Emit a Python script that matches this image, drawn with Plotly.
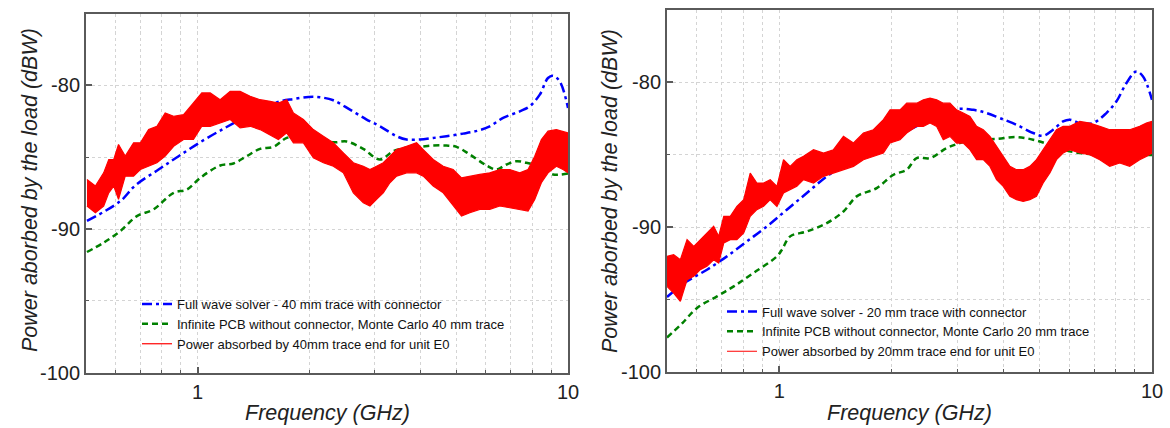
import plotly.graph_objects as go
import math

W, H = 1170, 428

# ---------------- Left panel (40 mm) ----------------
blue40_f = [0.503, 0.619, 0.679, 0.785, 0.889, 1.027, 1.187, 1.33, 1.506, 1.67, 1.815, 1.992, 2.141, 2.326,
            2.579, 2.86, 3.108, 3.446, 3.667, 3.983, 4.326, 4.699, 5.212, 5.72, 6.15, 6.68, 7.41, 7.88,
            8.39, 8.83, 9.11, 9.50, 10.0]
blue40_v = [-89.44, -88.06, -86.97, -85.86, -84.93, -83.89, -82.96, -82.27, -81.57, -81.11, -80.95, -80.81,
            -80.83, -81.04, -81.69, -82.38, -82.85, -83.54, -83.77, -83.77, -83.66, -83.54, -83.36, -83.15,
            -82.85, -82.27, -81.81, -81.46, -80.65, -79.49, -79.33, -79.72, -81.57]

green40_f = [0.503, 0.558, 0.619, 0.686, 0.761, 0.862, 0.936, 1.017, 1.151, 1.25, 1.358, 1.475, 1.602, 1.741,
             1.891, 2.097, 2.326, 2.527, 2.80, 3.108, 3.375, 3.667, 3.983, 4.326, 4.699, 5.0, 5.43, 6.03,
             6.41, 6.82, 7.26, 7.72, 8.39, 9.11, 10.0]
green40_v = [-91.60, -90.95, -90.14, -89.10, -88.63, -87.48, -87.25, -86.44, -85.58, -85.44, -84.93, -84.42,
             -84.28, -83.66, -83.50, -83.59, -83.96, -83.91, -84.42, -85.16, -84.58, -84.35, -84.28, -84.19,
             -84.19, -84.28, -84.81, -85.58, -85.86, -85.51, -85.28, -85.39, -85.63, -86.20, -86.13]

red40_f = [0.503, 0.530, 0.558, 0.576, 0.594, 0.612, 0.638, 0.672, 0.701, 0.738, 0.777, 0.818, 0.862, 0.917,
           0.975, 1.027, 1.082, 1.151, 1.225, 1.303, 1.387, 1.475, 1.570, 1.653, 1.741, 1.815, 1.931, 2.054,
           2.186, 2.326, 2.475, 2.634, 2.802, 2.920, 3.043, 3.172, 3.306, 3.446, 3.667, 3.902, 4.067, 4.326,
           4.604, 4.898, 5.159, 5.433, 5.780, 6.150, 6.544, 6.963, 7.408, 7.802, 8.132, 8.475, 8.834, 9.303,
           9.694, 10.0]
red40_hi = [-86.55, -87.01, -86.09, -85.16, -85.16, -84.12, -84.93, -84.00, -84.00, -83.08, -82.85, -81.92,
            -82.15, -82.04, -81.23, -80.53, -80.53, -81.00, -80.42, -80.42, -80.76, -81.00, -81.11, -81.23,
            -81.00, -81.92, -82.38, -83.08, -83.54, -84.00, -84.70, -85.39, -85.63, -85.86, -85.63, -85.39,
            -84.93, -84.47, -84.24, -84.00, -84.47, -85.16, -85.63, -85.86, -86.44, -86.32, -86.20, -86.09,
            -85.86, -85.86, -86.09, -85.86, -84.93, -83.77, -83.19, -83.08, -83.19, -83.31]
red40_lo = [-88.40, -88.87, -88.40, -87.48, -87.01, -87.94, -86.32, -86.32, -85.86, -85.63, -85.39, -84.93,
            -84.24, -83.77, -83.77, -82.85, -82.85, -82.62, -82.38, -82.96, -82.85, -83.08, -83.43, -83.77,
            -83.31, -84.00, -84.00, -85.05, -85.39, -85.63, -86.09, -87.48, -88.17, -88.40, -87.94, -87.48,
            -86.78, -86.32, -86.09, -86.09, -86.32, -87.01, -87.48, -88.40, -89.10, -88.87, -88.63, -88.63,
            -88.40, -88.52, -88.63, -88.75, -87.94, -86.78, -86.09, -85.63, -85.86, -86.09]

# ---------------- Right panel (20 mm) ----------------
blue20_f = [0.5, 0.566, 0.640, 0.724, 0.819, 0.927, 1.048, 1.186, 1.342, 1.487, 1.717, 2.109, 2.591, 2.99,
            3.315, 3.600, 3.908, 4.331, 4.800, 5.105, 5.430, 5.775, 6.018, 6.401, 6.950, 7.545, 8.025, 8.536,
            9.078, 9.461, 10.0]
blue20_v = [-94.80, -93.72, -92.92, -92.00, -90.97, -89.93, -88.78, -87.63, -86.48, -85.75, -84.87, -83.61,
            -82.46, -81.84, -81.89, -82.11, -82.46, -82.92, -83.49, -83.68, -83.26, -82.69, -82.57, -82.80,
            -82.80, -82.11, -81.31, -80.05, -79.24, -79.59, -81.20]

green20_f = [0.5, 0.55, 0.602, 0.681, 0.755, 0.853, 0.986, 1.017, 1.07, 1.186, 1.342, 1.487, 1.614, 1.826,
             2.025, 2.198, 2.338, 2.538, 2.813, 3.053, 3.315, 3.828, 4.331, 4.8, 5.321, 5.895, 6.535, 7.242,
             8.893, 10.0]
green20_v = [-97.6, -96.6, -95.56, -94.76, -94.07, -93.15, -92.0, -91.54, -90.62, -90.28, -89.70, -88.90,
             -87.86, -87.29, -86.37, -86.02, -85.22, -85.22, -84.53, -84.18, -83.95, -83.9, -83.77, -83.95,
             -84.3, -84.7, -84.9, -85.0, -85.0, -85.0]

red20_f = [0.500, 0.521, 0.543, 0.566, 0.590, 0.614, 0.640, 0.667, 0.688, 0.710, 0.739, 0.770, 0.803, 0.836,
           0.871, 0.908, 0.946, 0.986, 1.027, 1.070, 1.115, 1.162, 1.236, 1.315, 1.398, 1.487, 1.582, 1.682,
           1.789, 1.903, 1.983, 2.109, 2.198, 2.338, 2.436, 2.538, 2.645, 2.755, 2.871, 2.990, 3.117, 3.248,
           3.384, 3.527, 3.675, 3.828, 3.990, 4.157, 4.331, 4.512, 4.703, 4.899, 5.105, 5.321, 5.544, 5.775,
           6.018, 6.401, 6.808, 7.242, 7.702, 8.193, 8.712, 9.268, 9.656, 10.0]
red20_hi = [-92.00, -91.89, -92.23, -90.85, -91.31, -90.85, -90.39, -89.93, -90.62, -89.24, -89.24, -88.55,
            -88.09, -86.25, -86.94, -86.94, -86.71, -87.17, -85.33, -85.79, -85.33, -85.10, -84.64, -84.87,
            -84.64, -83.72, -84.18, -83.49, -83.26, -82.57, -81.89, -81.89, -81.43, -81.43, -81.20, -81.08,
            -81.20, -81.43, -81.43, -81.89, -82.11, -82.34, -83.03, -83.26, -83.72, -84.41, -85.10, -85.79,
            -86.02, -86.02, -85.79, -85.33, -84.64, -83.95, -83.26, -83.03, -83.03, -82.69, -82.80, -83.03,
            -83.26, -83.26, -83.26, -83.03, -82.80, -82.69]
red20_lo = [-94.07, -94.53, -95.10, -93.61, -93.38, -92.92, -92.69, -92.23, -92.46, -91.08, -90.85, -90.85,
            -90.39, -89.24, -88.78, -88.55, -88.09, -88.55, -87.63, -87.40, -87.17, -86.71, -86.94, -86.48,
            -86.25, -86.02, -85.79, -85.33, -85.10, -84.87, -84.18, -83.95, -83.49, -83.03, -83.03, -82.80,
            -83.03, -83.95, -83.72, -84.18, -84.18, -84.64, -85.33, -85.33, -85.79, -86.71, -87.17, -87.86,
            -88.09, -88.21, -88.09, -87.86, -86.94, -86.25, -85.33, -84.87, -84.64, -84.87, -84.99, -85.33,
            -85.79, -85.56, -85.79, -85.33, -85.10, -84.87]

# ---------------- Text ----------------
legend40 = ["Full wave solver - 40 mm trace with connector",
            "Infinite PCB without connector, Monte Carlo 40 mm trace",
            "Power absorbed by 40mm trace end for unit E0"]
legend20 = ["Full wave solver - 20 mm trace with connector",
            "Infinite PCB without connector, Monte Carlo 20 mm trace",
            "Power absorbed by 20mm trace end for unit E0"]
x_title = "Frequency (GHz)"
y_title = "Power aborbed by the load (dBW)"
x_major = [1, 10]
x_minor = [0.6, 0.7, 0.8, 0.9, 2, 3, 4, 5, 6, 7, 8, 9]
y_major = [-100, -90, -80]
y_minor = [-95, -85]

BLUE = "#0000ff"
GREEN = "#008000"
RED = "#ff0000"
FONT = "Arial, Liberation Sans, sans-serif"

fig = go.Figure()


def add_panel(xa, ya, leg, bf, bv, gf, gv, rf, rhi, rlo, names):
    fig.add_trace(go.Scatter(x=bf, y=bv, mode="lines", name=names[0], xaxis=xa, yaxis=ya, legend=leg,
                             line=dict(color=BLUE, width=2.5, dash="10px,4px,3px,4px", shape="spline")))
    fig.add_trace(go.Scatter(x=gf, y=gv, mode="lines", name=names[1], xaxis=xa, yaxis=ya, legend=leg,
                             line=dict(color=GREEN, width=2.5, dash="6px,4px", shape="spline")))
    fig.add_trace(go.Scatter(x=rf, y=rhi, mode="lines", name=names[2], xaxis=xa, yaxis=ya, legend=leg,
                             legendgroup=leg + "red", line=dict(color=RED, width=1.2)))
    fig.add_trace(go.Scatter(x=rf, y=rlo, mode="lines", name=names[2], xaxis=xa, yaxis=ya, legend=leg,
                             legendgroup=leg + "red", showlegend=False, fill="tonexty", fillcolor=RED,
                             line=dict(color=RED, width=1.2)))


add_panel("x", "y", "legend", blue40_f, blue40_v, green40_f, green40_v, red40_f, red40_hi, red40_lo, legend40)
add_panel("x2", "y2", "legend2", blue20_f, blue20_v, green20_f, green20_v, red20_f, red20_hi, red20_lo, legend20)

AX = "#5a5a5a"
GRID = "#d4d4d4"


def xaxis_cfg(dom, anchor):
    return dict(domain=dom, anchor=anchor, type="log", range=[math.log10(0.5), 1], automargin=False,
                tickmode="array", tickvals=x_major, ticktext=[str(v) for v in x_major],
                ticks="inside", ticklen=6, tickwidth=1.5, tickcolor=AX,
                showline=True, linecolor=AX, linewidth=2, mirror=True,
                showgrid=True, gridcolor=GRID, griddash="dot", gridwidth=1,
                tickfont=dict(family=FONT, size=20, color="#222"),
                minor=dict(tickmode="array", tickvals=x_minor, ticks="inside", ticklen=3, tickwidth=1.2,
                           tickcolor=AX, showgrid=True, gridcolor=GRID, griddash="dot", gridwidth=1),
                zeroline=False)


def yaxis_cfg(dom, anchor):
    return dict(domain=dom, anchor=anchor, range=[-100, -75], automargin=False,
                tickmode="array", tickvals=y_major, ticktext=[str(v) for v in y_major],
                ticks="inside", ticklen=6, tickwidth=1.5, tickcolor=AX,
                showline=True, linecolor=AX, linewidth=2, mirror=True,
                showgrid=True, gridcolor=GRID, griddash="dot", gridwidth=1,
                tickfont=dict(family=FONT, size=20, color="#222"),
                minor=dict(tickmode="array", tickvals=y_minor, ticks="inside", ticklen=3, tickwidth=1.2,
                           tickcolor=AX, showgrid=True, gridcolor=GRID, griddash="dot", gridwidth=1),
                zeroline=False)


xl = [86 / W, 568 / W]
xr = [667 / W, 1152 / W]
yl = [1 - 372.7 / H, 1 - 13.5 / H]
yr = [1 - 372.3 / H, 1 - 10 / H]

leg_common = dict(bgcolor="rgba(0,0,0,0)", borderwidth=0, font=dict(family=FONT, size=13, color="#111"),
                  xanchor="left", yanchor="top", tracegroupgap=0, itemwidth=30)

fig.update_layout(
    width=W, height=H, autosize=False, margin=dict(l=0, r=0, t=0, b=0, pad=0),
    paper_bgcolor="white", plot_bgcolor="white",
    xaxis=xaxis_cfg(xl, "y"), yaxis=yaxis_cfg(yl, "x"),
    xaxis2=xaxis_cfg(xr, "y2"), yaxis2=yaxis_cfg(yr, "x2"),
    legend=dict(x=137 / W, y=1 - 289 / H, **leg_common),
    legend2=dict(x=722 / W, y=1 - 296.5 / H, **leg_common),
    showlegend=True,
)

ann = []
for cx, cy in [(327, 413), (909, 413)]:
    ann.append(dict(text="<i>" + x_title + "</i>", x=cx / W, y=1 - cy / H, xref="paper", yref="paper",
                    showarrow=False, xanchor="center", yanchor="middle",
                    font=dict(family=FONT, size=21.5, color="#222")))
for cx, cy in [(30, 190), (610, 191)]:
    ann.append(dict(text="<i>" + y_title + "</i>", x=cx / W, y=1 - cy / H, xref="paper", yref="paper",
                    showarrow=False, xanchor="center", yanchor="middle", textangle=-90,
                    font=dict(family=FONT, size=21.5, color="#222")))
fig.update_layout(annotations=ann)

fig.write_html("out.html", config={"responsive": False, "displayModeBar": False},
               post_script="document.body.style.margin='0';document.body.style.overflow='hidden';")
